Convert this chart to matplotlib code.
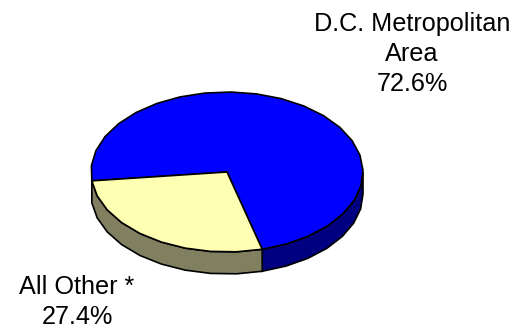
import numpy as np
import matplotlib
matplotlib.use('Agg')
import matplotlib.pyplot as plt

labels = ['D.C. Metropolitan\nArea\n72.6%', 'All Other *\n27.4%']
values = [72.6, 27.4]
top_colors = ['#0000ff', '#ffffb3']
side_colors = ['#000080', '#808060']

W, H = 517, 329
cx, cy, rx, ry, depth = 227, 172, 136, 80, 22
start = -75.0
step = 11

plt.rcParams['font.family'] = ['Liberation Sans', 'DejaVu Sans']
fig = plt.figure(figsize=(W / 100, H / 100), dpi=100)
ax = fig.add_axes([0, 0, 1, 1])
ax.set_xlim(0, W)
ax.set_ylim(H, 0)
ax.axis('off')

fracs = np.array(values) / sum(values)
edges = start + 360 * np.concatenate([[0], np.cumsum(fracs)])

# side wall, runs from the left edge of the yellow slice round to the right
left = edges[1] - 360
for i in range(len(values)):
    for lo, hi in [(edges[i], edges[i + 1]), (edges[i] - 360, edges[i + 1] - 360)]:
        lo2, hi2 = max(lo, left), min(hi, 0)
        if hi2 <= lo2:
            continue
        n = int((hi2 - lo2) / step) + 2
        t = np.radians(np.linspace(lo2, hi2, n))
        x = cx + rx * np.cos(t)
        y = cy - ry * np.sin(t)
        ax.fill(np.r_[x, x[::-1]], np.r_[y, y[::-1] + depth],
                fc=side_colors[i], ec='black', lw=1.2, zorder=1)

# top face, coarse steps like the reference
for i in range(len(values)):
    n = int((edges[i + 1] - edges[i]) / step) + 2
    t = np.radians(np.linspace(edges[i], edges[i + 1], n))
    x = np.r_[cx, cx + rx * np.cos(t), cx]
    y = np.r_[cy, cy - ry * np.sin(t), cy]
    ax.fill(x, y, fc=top_colors[i], ec='black', lw=1.2, zorder=2)

ax.text(412, 54, labels[0], ha='center', va='center', fontsize=18.2,
        linespacing=1.32, color='black')
ax.text(77, 302, labels[1], ha='center', va='center', fontsize=18.2,
        linespacing=1.32, color='black')

fig.savefig('out.png', dpi=100)
